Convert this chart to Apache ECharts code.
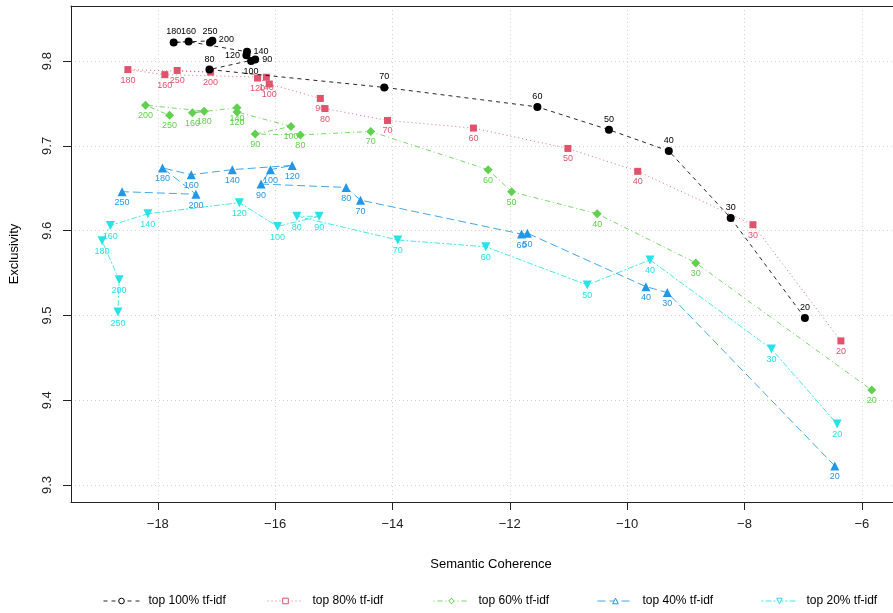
<!DOCTYPE html>
<html>
<head>
<meta charset="utf-8">
<script src="https://cdn.jsdelivr.net/npm/echarts@6/dist/echarts.min.js"></script>
<style>
  html, body { margin: 0; padding: 0; background: #fff; }
  #chart { width: 893px; height: 613px; }
</style>
</head>
<body>
<div id="chart"></div>
<script>
// number of topics, same order for every series
const kValues = [20, 30, 40, 50, 60, 70, 80, 90, 100, 120, 140, 160, 180, 200, 250]

// top 100% tf-idf
const coh100 = [-6.97, -8.235, -9.29, -10.31, -11.53, -14.14, -17.12, -16.34, -16.41, -16.49, -16.48, -17.475, -17.73, -17.07, -17.11]
const exc100 = [9.497, 9.615, 9.694, 9.719, 9.746, 9.769, 9.790, 9.802, 9.800, 9.807, 9.811, 9.823, 9.822, 9.824, 9.822]
// top 80% tf-idf
const coh80 = [-6.356, -7.855, -9.82, -11.01, -12.62, -14.085, -15.15, -15.23, -16.10, -16.30, -16.15, -17.88, -18.51, -17.10, -17.67]
const exc80 = [9.470, 9.607, 9.670, 9.697, 9.721, 9.730, 9.744, 9.756, 9.773, 9.780, 9.781, 9.784, 9.790, 9.787, 9.789]
// top 60% tf-idf
const coh60 = [-5.83, -8.83, -10.51, -11.97, -12.37, -14.37, -15.57, -16.34, -15.73, -16.65, -16.65, -17.41, -17.21, -18.21, -17.80]
const exc60 = [9.412, 9.562, 9.620, 9.646, 9.672, 9.717, 9.713, 9.714, 9.723, 9.740, 9.745, 9.739, 9.741, 9.748, 9.736]
// top 40% tf-idf
const coh40 = [-6.46, -9.315, -9.68, -11.70, -11.80, -14.545, -14.79, -16.24, -16.08, -15.71, -16.73, -17.43, -17.92, -17.35, -18.61]
const exc40 = [9.3225, 9.527, 9.534, 9.597, 9.596, 9.636, 9.651, 9.655, 9.672, 9.677, 9.672, 9.666, 9.674, 9.643, 9.646]
// top 20% tf-idf
const coh20 = [-6.42, -7.54, -9.61, -10.68, -12.41, -13.91, -15.63, -15.25, -15.96, -16.61, -18.17, -18.81, -18.95, -18.66, -18.68]
const exc20 = [9.372, 9.4605, 9.5655, 9.536, 9.581, 9.589, 9.617, 9.617, 9.605, 9.633, 9.620, 9.606, 9.588, 9.542, 9.504]

const xTicks = [-18, -16, -14, -12, -10, -8, -6]
const yTicks = [9.3, 9.4, 9.5, 9.6, 9.7, 9.8]

const seriesNames = ['top 100% tf-idf', 'top 80% tf-idf', 'top 60% tf-idf', 'top 40% tf-idf', 'top 20% tf-idf']

const FONT = '"Liberation Sans", Arial, sans-serif'

// per series look (R style: lty 2..6, pch 16/15/18/17/25)
const styles = [
  { color: '#000000', dash: [4, 4], symbol: 'circle', size: 8, rotate: 0, labelDy: -10.5 },
  { color: '#DF536B', dash: [1, 3], symbol: 'rect', size: 7, rotate: 0, labelDy: 10.5 },
  { color: '#61D04F', dash: [1, 3, 5, 3], symbol: 'diamond', size: 9, rotate: 0, labelDy: 10.5 },
  { color: '#2297E6', dash: [8, 4], symbol: 'triangle', size: 9, rotate: 0, labelDy: 11 },
  { color: '#28E2E5', dash: [2, 2, 6, 2], symbol: 'triangle', size: 9, rotate: 180, labelDy: 11 }
]

// the black labels were moved around to avoid overlaps
const blackLabelShift = { 200: [14, -1], 140: [14, 0], 120: [-14, 0], 90: [12, 0], 100: [0, 10.5] }

const coords = [[coh100, exc100], [coh80, exc80], [coh60, exc60], [coh40, exc40], [coh20, exc20]]

const series = coords.map((c, s) => {
  const st = styles[s]
  return {
    name: seriesNames[s],
    type: 'line',
    symbol: st.symbol,
    symbolSize: st.size,
    symbolRotate: st.rotate,
    itemStyle: { color: st.color },
    lineStyle: { color: st.color, width: 1, type: st.dash, opacity: 0.85 },
    z: 10 - s,
    data: kValues.map((k, i) => {
      let off = [0, st.labelDy]
      if (s === 0 && blackLabelShift[k]) off = blackLabelShift[k]
      return {
        value: [c[0][i], c[1][i], k],
        label: {
          show: true,
          position: 'inside',
          offset: off,
          formatter: p => p.value[2],
          color: st.color,
          fontSize: 9,
          fontFamily: FONT
        }
      }
    })
  }
})

// one legend per item so they sit where R put them
const legendLeft = [98, 262, 428, 592, 756]
const legends = seriesNames.map((n, s) => ({
  left: legendLeft[s],
  top: 590,
  itemWidth: 36,
  itemHeight: 7,
  textStyle: { fontSize: 12, fontFamily: FONT, color: '#000', padding: [0, 0, 0, 4] },
  data: [{
    name: n,
    itemStyle: { color: '#fff', borderColor: styles[s].color, borderWidth: 1 },
    lineStyle: { color: styles[s].color, width: 1, type: styles[s].dash }
  }]
}))

const xMin = -19.48
const xMax = -5.468

const chart = echarts.init(document.getElementById('chart'))
chart.setOption({
  animation: false,
  backgroundColor: '#fff',
  grid: { left: 70.5, top: 6, right: 0, bottom: 111 },
  legend: legends,
  xAxis: [{
    type: 'value',
    min: xMin,
    max: xMax,
    name: 'Semantic Coherence',
    nameLocation: 'middle',
    nameGap: 56,
    nameTextStyle: { fontSize: 13, fontFamily: FONT, color: '#000', padding: [0, 0, 0, 18] },
    axisLine: { show: true, onZero: false, lineStyle: { color: '#222' } },
    axisTick: { show: true, inside: false, length: 8, customValues: xTicks, lineStyle: { color: '#222' } },
    axisLabel: { customValues: xTicks, margin: 16, fontSize: 13, fontFamily: FONT, color: '#222',
      formatter: v => String(v).replace('-', '\u2212') },
    splitLine: { show: true, lineStyle: { color: '#d3d3d3', type: [1, 3] } }
  }, {
    // top side of the box
    type: 'value',
    position: 'top',
    min: xMin,
    max: xMax,
    axisLine: { show: true, onZero: false, lineStyle: { color: '#222' } },
    axisTick: { show: false },
    axisLabel: { show: false },
    splitLine: { show: false }
  }],
  yAxis: {
    type: 'value',
    min: 9.28,
    max: 9.865,
    name: 'Exclusivity',
    nameLocation: 'middle',
    nameGap: 50,
    nameTextStyle: { fontSize: 13, fontFamily: FONT, color: '#000' },
    axisLine: { show: true, onZero: false, lineStyle: { color: '#222' } },
    axisTick: { show: true, inside: false, length: 8, customValues: yTicks, lineStyle: { color: '#222' } },
    axisLabel: { customValues: yTicks, rotate: 90, margin: 17, fontSize: 13, fontFamily: FONT, color: '#222',
      formatter: v => v.toFixed(1) },
    splitLine: { show: true, lineStyle: { color: '#d3d3d3', type: [1, 3] } }
  },
  series: series
})
</script>
</body>
</html>
